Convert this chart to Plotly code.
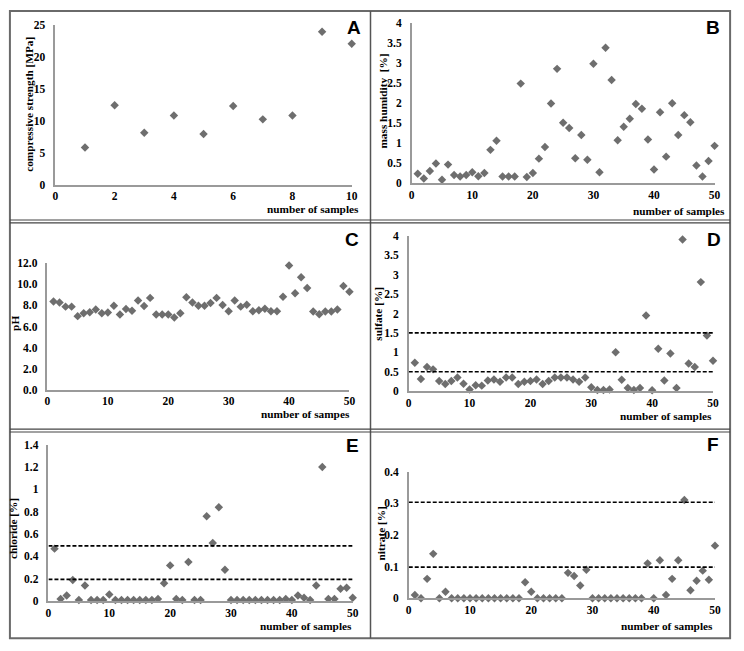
import plotly.graph_objects as go

W, H = 744, 651

# ---------------- data ----------------
samples10 = list(range(1, 11))
samples50 = list(range(1, 51))

strength = [5.8, 12.4, 8.1, 10.8, 7.9, 12.3, 10.2, 10.8, 23.9, 22.0]

humidity = [0.23, 0.11, 0.30, 0.49, 0.08, 0.46, 0.20, 0.16, 0.20, 0.27,
            0.17, 0.25, 0.83, 1.06, 0.16, 0.16, 0.16, 2.49, 0.15, 0.25,
            0.61, 0.90, 1.99, 2.86, 1.51, 1.38, 0.62, 1.20, 0.58, 2.99,
            0.27, 3.39, 2.58, 1.07, 1.41, 1.61, 1.98, 1.86, 1.09, 0.34,
            1.77, 0.66, 2.00, 1.20, 1.70, 1.52, 0.44, 0.16, 0.55, 0.93]

ph = [8.37, 8.28, 7.88, 7.88, 6.98, 7.26, 7.35, 7.60, 7.26, 7.32,
      7.97, 7.13, 7.66, 7.50, 8.47, 7.94, 8.71, 7.13, 7.13, 7.13,
      6.85, 7.26, 8.78, 8.28, 7.97, 7.97, 8.22, 8.71, 8.03, 7.44,
      8.47, 7.88, 8.06, 7.44, 7.53, 7.69, 7.44, 7.44, 8.81, 11.78,
      9.15, 10.67, 9.64, 7.41, 7.16, 7.41, 7.41, 7.60, 9.83, 9.30]

sulfate = [0.73, 0.31, 0.62, 0.56, 0.26, 0.18, 0.26, 0.35, 0.19, 0.04,
           0.15, 0.14, 0.27, 0.30, 0.24, 0.35, 0.35, 0.18, 0.24, 0.26,
           0.30, 0.18, 0.26, 0.35, 0.35, 0.35, 0.30, 0.24, 0.35, 0.10,
           0.03, 0.03, 0.04, 1.00, 0.29, 0.08, 0.03, 0.08, 1.95, 0.02,
           1.09, 0.27, 0.97, 0.08, 3.91, 0.71, 0.62, 2.81, 1.43, 0.78]

chloride = [0.47, 0.02, 0.05, 0.19, 0.01, 0.14, 0.01, 0.01, 0.01, 0.06,
            0.01, 0.01, 0.01, 0.01, 0.01, 0.01, 0.01, 0.02, 0.16, 0.32,
            0.02, 0.01, 0.35, 0.01, 0.01, 0.76, 0.52, 0.84, 0.28, 0.01,
            0.01, 0.01, 0.01, 0.01, 0.01, 0.01, 0.01, 0.01, 0.02, 0.01,
            0.05, 0.03, 0.01, 0.14, 1.20, 0.02, 0.02, 0.11, 0.12, 0.03]

nitrate = [0.010, 0.0, 0.061, 0.140, 0.0, 0.020, 0.0, 0.0, 0.0, 0.0,
           0.0, 0.0, 0.0, 0.0, 0.0, 0.0, 0.0, 0.0, 0.050, 0.020,
           0.0, 0.0, 0.0, 0.0, 0.0, 0.080, 0.070, 0.040, 0.090, 0.0,
           0.0, 0.0, 0.0, 0.0, 0.0, 0.0, 0.0, 0.0, 0.110, 0.0,
           0.120, 0.010, 0.061, 0.120, 0.310, 0.025, 0.055, 0.087, 0.058, 0.166]

sulfate_limits = [0.5, 1.5]
chloride_limits = [0.195, 0.495]
nitrate_limits = [0.098, 0.303]

# ---------------- helpers ----------------
def px_x(p):
    return p / W

def px_y(p):
    return 1 - p / H

MARK = "#6e6e6e"
AXC = "#9a9a9a"
SERIF = "Liberation Serif"
SANS = "Liberation Sans"

fig = go.Figure()

panels = [
    dict(letter="A", x=samples10, y=strength, xr=[0, 10], xd=2, yr=[0, 25], yd=5, yf="",
         xpx=(53, 353), ypx=(182, 19), ytitle="compressive strength [MPa]",
         xtitle="number of samples", ytp=(26, 100), xtp=(362, 207), lp=(355, 22)),
    dict(letter="B", x=samples50, y=humidity, xr=[0, 50], xd=10, yr=[0, 4], yd=0.5, yf="",
         xpx=(413.7, 720.3), ypx=(180.3, 17.7), ytitle="mass humidity  [%]",
         xtitle="number of samples", ytp=(385, 97), xtp=(733, 209), lp=(719, 22)),
    dict(letter="C", x=samples50, y=ph, xr=[0, 50], xd=10, yr=[0, 12], yd=2, yf=".1f",
         xpx=(45, 350.7), ypx=(391, 262), ytitle="pH",
         xtitle="number of sampes", ytp=(12, 323), xtp=(353, 416), lp=(353, 238)),
    dict(letter="D", x=samples50, y=sulfate, xr=[0, 50], xd=10, yr=[0, 4], yd=0.5, yf="",
         xpx=(410.7, 718.7), ypx=(392.3, 234.3), ytitle="sulfate [%]",
         xtitle="number of samples", ytp=(380, 313), xtp=(720, 418), lp=(720, 238)),
    dict(letter="E", x=samples50, y=chloride, xr=[0, 50], xd=10, yr=[0, 1.4], yd=0.2, yf="",
         xpx=(46, 354), ypx=(606.3, 447), ytitle="chloride [%]",
         xtitle="number of samples", ytp=(10, 532), xtp=(355, 632), lp=(354, 448)),
    dict(letter="F", x=samples50, y=nitrate, xr=[0, 50], xd=10, yr=[0, 0.4], yd=0.1, yf="",
         xpx=(410.7, 720.7), ypx=(603.3, 474.3), ytitle="nitrate [%]",
         xtitle="number of samples", ytp=(383, 537), xtp=(721, 632), lp=(719, 447)),
]

limits = {3: sulfate_limits, 4: chloride_limits, 5: nitrate_limits}

annotations = []
shapes = []
layout = {}
tickfont = dict(family=SERIF, size=11.5, color="black", weight="bold")
titlefont = dict(family=SERIF, size=11.3, color="black", weight="bold")

for i, p in enumerate(panels):
    n = "" if i == 0 else str(i + 1)
    xa, ya = "x" + n, "y" + n
    fig.add_trace(go.Scatter(
        x=p["x"], y=p["y"], mode="markers", xaxis=xa, yaxis=ya,
        marker=dict(symbol="diamond", size=6.5, color=MARK, line=dict(width=0)),
        cliponaxis=False, showlegend=False, hoverinfo="x+y"))
    layout["xaxis" + n] = dict(
        domain=[px_x(p["xpx"][0]), px_x(p["xpx"][1])], range=p["xr"], dtick=p["xd"], tick0=0,
        anchor=ya, showline=True, linecolor=AXC, linewidth=1.5, showgrid=False,
        zeroline=False, ticks="", tickfont=tickfont, fixedrange=True)
    layout["yaxis" + n] = dict(
        domain=[px_y(p["ypx"][0]), px_y(p["ypx"][1])], range=p["yr"], dtick=p["yd"], tick0=0,
        anchor=xa, showline=True, linecolor=AXC, linewidth=1.5, showgrid=False,
        zeroline=False, ticks="", tickfont=tickfont, tickformat=p["yf"],
        ticklabelstandoff=6, fixedrange=True)
    annotations.append(dict(
        text=p["ytitle"], textangle=-90, xref="paper", yref="paper",
        x=px_x(p["ytp"][0]), y=px_y(p["ytp"][1]), xanchor="center", yanchor="middle",
        showarrow=False, font=titlefont))
    annotations.append(dict(
        text=p["xtitle"], xref="paper", yref="paper",
        x=px_x(p["xtp"][0]), y=px_y(p["xtp"][1]), xanchor="right", yanchor="middle",
        showarrow=False, font=titlefont))
    annotations.append(dict(
        text=p["letter"], xref="paper", yref="paper",
        x=px_x(p["lp"][0]), y=px_y(p["lp"][1]), xanchor="center", yanchor="middle",
        showarrow=False, font=dict(family=SANS, size=19, color="black", weight="bold")))
    if i in limits:
        for v in limits[i]:
            shapes.append(dict(type="line", xref=xa, yref=ya, x0=0, x1=50, y0=v, y1=v,
                               line=dict(color="black", width=1.6, dash="4px,2px")))

# panel borders
shapes.append(dict(type="rect", xref="paper", yref="paper",
                   x0=px_x(7), x1=px_x(736), y0=px_y(644), y1=px_y(5),
                   line=dict(color="#6a6a6a", width=2)))
shapes.append(dict(type="line", xref="paper", yref="paper",
                   x0=px_x(372), x1=px_x(372), y0=px_y(644), y1=px_y(5),
                   line=dict(color="#555555", width=1.5)))
for yy in (218, 221, 431, 434):
    shapes.append(dict(type="line", xref="paper", yref="paper",
                       x0=px_x(7), x1=px_x(736), y0=px_y(yy), y1=px_y(yy),
                       line=dict(color="#444444", width=1.2)))

fig.update_layout(
    width=W, height=H, margin=dict(l=0, r=0, t=0, b=0),
    paper_bgcolor="white", plot_bgcolor="white", hovermode=False,
    annotations=annotations, shapes=shapes, showlegend=False, **layout)

fig.write_html("out.html", config={"displayModeBar": False},
               post_script="document.body.style.margin='0';document.body.style.overflow='hidden';")
